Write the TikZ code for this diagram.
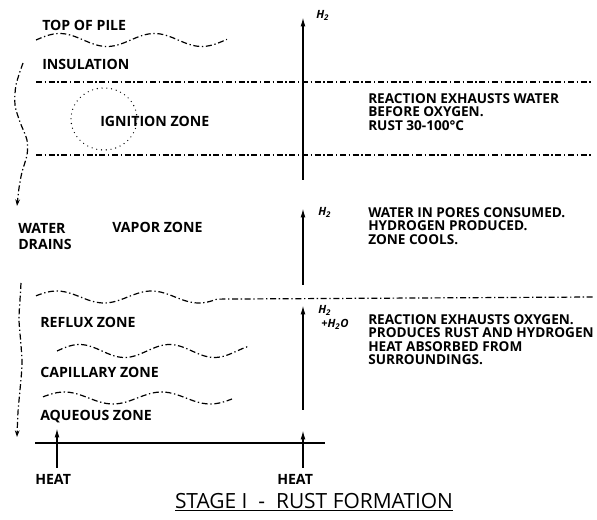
\documentclass[tikz,border=0pt]{standalone}
\usepackage{fontspec}
\setmainfont{Open Sans}
\usetikzlibrary{arrows.meta,positioning}

\begin{document}
\begin{tikzpicture}[
  x=0.75pt, y=-0.75pt,
  lbl/.style={anchor=west, inner sep=0pt, font=\bfseries\fontsize{10.6}{12.4}\selectfont},
  note/.style={anchor=north west, inner sep=0pt, align=left, font=\bfseries\fontsize{10.2}{10.1}\selectfont},
  gas/.style={anchor=west, inner sep=0pt, font=\bfseries\itshape\fontsize{8.5}{9}\selectfont},
  zoneline/.style={line width=0.9pt, dash pattern=on 4.5pt off 2pt on 1pt off 2pt},
  drain/.style={zoneline, -{Stealth[length=5pt,width=3.5pt]}},
  flow/.style={line width=1.1pt, -{Latex[length=7pt,width=3.6pt]}},
  ring/.style={line width=1pt, line cap=round, dash pattern=on 0pt off 3.6pt}
]
\useasboundingbox (0,0) rectangle (597,520);

\node[lbl] (top) at (42,25) {TOP OF PILE};
\node[lbl] (insul) at (42,64) {INSULATION};
\node[lbl] (ign) at (100,121) {IGNITION ZONE};
\node[lbl, align=left, anchor=north west] (drains) at (18,223) {WATER\\DRAINS};
\node[lbl] (vapor) at (112,227) {VAPOR ZONE};
\node[lbl] (reflux) at (40,322) {REFLUX ZONE};
\node[lbl] (capil) at (40,372) {CAPILLARY ZONE};
\node[lbl] (aque) at (40,417) {AQUEOUS ZONE};
\node[lbl] (heatl) at (35,479) {HEAT};
\node[lbl] (heatr) at (277,479) {HEAT};

\node[note] (exwater) at (368,93) {REACTION EXHAUSTS WATER\\BEFORE OXYGEN.\\RUST 30-100°C};
\node[note] (pores) at (368,207) {WATER IN PORES CONSUMED.\\HYDROGEN PRODUCED.\\ZONE COOLS.};
\node[note] (exoxy) at (368,314) {REACTION EXHAUSTS OXYGEN.\\PRODUCES RUST AND HYDROGEN\\HEAT ABSORBED FROM\\SURROUNDINGS.};

\node[gas] (gasa) at (316,15) {H\textsubscript{2}};
\node[gas] (gasb) at (318,212) {H\textsubscript{2}};
\node[gas] (gasc) at (318,310) {H\textsubscript{2}};
\node[gas] (gasd) at (321,324) {+H\textsubscript{2}O};

\node[anchor=center, inner sep=0pt, font=\fontsize{15.7}{16}\selectfont] (title) at (314,502) {\underline{STAGE I \ -\ \ RUST FORMATION}};

\coordinate (a0) at (303,180);
\coordinate (a1) at (303,17);
\coordinate (b0) at (303,285);
\coordinate (b1) at (303,208);
\coordinate (c0) at (303,410);
\coordinate (c1) at (303,305);
\coordinate (hr0) at (303,468);
\coordinate (hr1) at (303,430);
\coordinate (hl0) at (57,468);
\coordinate (hl1) at (57,428);
\coordinate (g0) at (35,443);
\coordinate (g1) at (325,443);

\draw[zoneline] plot[smooth, domain=36:227, samples=40] (\x,{40-6.5*sin((\x-36)*3.8)});
\draw[zoneline] (36,82) -- (593,82);
\draw[zoneline] (36,155) -- (593,155);
\draw[ring] (104,119) circle[x radius=33, y radius=31];
\draw[zoneline] plot[smooth, domain=36:217, samples=40] (\x,{297-6*sin((\x-33)*3.8)}) -- (593,297);
\draw[zoneline] plot[smooth, domain=57:248, samples=40] (\x,{351-6.5*sin((\x-57)*4)});
\draw[zoneline] plot[smooth, domain=43:232, samples=40] (\x,{398-6*sin((\x-40)*3.7)});

\draw[drain] plot[smooth] coordinates {(23,63) (16,85) (15,105) (20,122) (27,140) (27,155) (22,172) (19,188) (17,206)};
\draw[drain] plot[smooth] coordinates {(21,283) (20,300) (19,320) (21,345) (22,365) (20,390) (18,412) (17,437)};

\draw[line width=1pt] (g0) -- (g1);
\draw[flow] (a0) -- (a1);
\draw[flow] (b0) -- (b1);
\draw[flow] (c0) -- (c1);
\draw[flow] (hr0) -- (hr1);
\draw[flow] (hl0) -- (hl1);
\end{tikzpicture}
\end{document}
